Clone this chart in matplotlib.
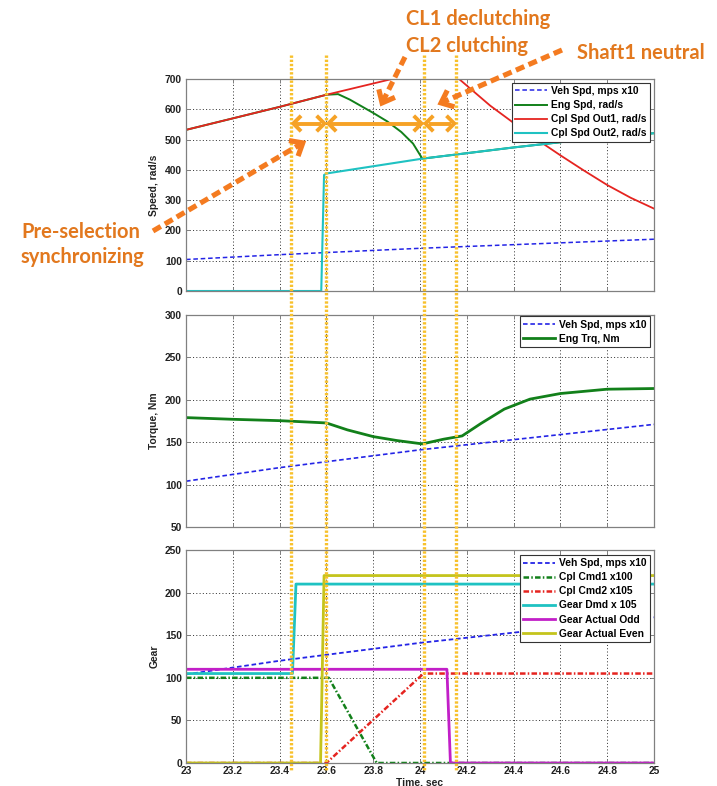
import matplotlib
matplotlib.use("Agg")
import matplotlib.pyplot as plt
from matplotlib.lines import Line2D
from matplotlib.transforms import blended_transform_factory
import numpy as np

# ---------------- data ----------------
x_ticks = [23.0, 23.2, 23.4, 23.6, 23.8, 24.0, 24.2, 24.4, 24.6, 24.8, 25.0]
x_tick_labels = ["23", "23.2", "23.4", "23.6", "23.8", "24", "24.2", "24.4", "24.6", "24.8", "25"]

# vehicle speed (mps x10), shared by all three panels
t_veh = [23.0, 23.4, 23.6, 24.0, 24.5, 25.0]
veh_spd_x10 = [104, 120, 127, 141, 156, 171]

# speed panel
t_out1 = [23.0, 23.4, 23.6, 23.88, 24.0, 24.1, 24.167, 24.3, 24.4, 24.5, 24.6, 24.7, 24.8, 24.9, 25.0]
cpl_spd_out1 = [532, 608, 648, 700, 725, 745, 700, 612, 555, 500, 448, 398, 350, 308, 272]

t_out2 = [23.0, 23.578, 23.59, 23.6, 24.01, 24.2, 24.4, 24.7, 25.0]
cpl_spd_out2 = [0, 0, 383, 388, 437, 455, 474, 500, 521]

t_eng = [23.0, 23.4, 23.6, 23.65, 23.70, 23.80, 23.86, 23.92, 23.97, 24.01, 24.2, 24.4, 24.7, 25.0]
eng_spd = [532, 608, 648, 650, 632, 588, 560, 525, 487, 437, 455, 474, 500, 521]

# torque panel
t_trq = [23.0, 23.2, 23.4, 23.6, 23.69, 23.8, 23.9, 24.01, 24.1, 24.18, 24.26, 24.36, 24.47, 24.6, 24.8, 25.0]
eng_trq = [179, 177, 175.4, 172.7, 164.5, 156.6, 152, 148, 153.5, 157.4, 172, 189, 200.8, 207.4, 212.5, 213.3]

# gear panel
t_cmd1 = [23.0, 23.61, 23.815, 25.0]
cpl_cmd1_x100 = [100, 100, 0, 0]
t_cmd2 = [23.0, 23.60, 24.015, 25.0]
cpl_cmd2_x105 = [0, 0, 105, 105]
t_dmd = [23.0, 23.455, 23.47, 25.0]
gear_dmd_x105 = [105, 105, 210, 210]
t_odd = [23.0, 24.115, 24.13, 25.0]
gear_odd = [110, 110, 0, 0]
t_even = [23.0, 23.575, 23.59, 25.0]
gear_even = [0, 0, 220, 220]

# shift phase boundaries
phase_times = [23.45, 23.6, 24.015, 24.155]
span_level = 553

# ---------------- style ----------------
plt.rcParams["font.family"] = ["Liberation Sans", "DejaVu Sans"]
plt.rcParams["font.weight"] = "bold"
plt.rcParams["axes.labelweight"] = "bold"
plt.rcParams["lines.scale_dashes"] = False

W, H = 717, 786
fig = plt.figure(figsize=(W / 100, H / 100), dpi=100)
fig.patch.set_facecolor("white")

C_BLUE = "#2424e6"
C_GREEN = "#12801a"
C_RED = "#e52420"
C_CYAN = "#1fc2c2"
C_MAG = "#c21fc8"
C_OLIVE = "#c4c41c"
DASH = (0, (3.3, 2.0))
DASHDOT = (0, (4.0, 1.6, 1.1, 1.6))
FS = 7.4

left, width = 186 / W, 468 / W
ax1 = fig.add_axes([left, 1 - 291 / H, width, 212 / H])
ax2 = fig.add_axes([left, 1 - 527 / H, width, 212 / H])
ax3 = fig.add_axes([left, 1 - 763 / H, width, 213 / H])


def style_axes(ax, ylim, ystep, ylabel, show_x):
    ax.set_xlim(23, 25)
    ax.set_ylim(*ylim)
    ax.set_yticks(np.arange(ylim[0], ylim[1] + 1, ystep))
    if show_x:
        ax.set_xticks(x_ticks, x_tick_labels)
    else:
        ax.set_xticks(x_ticks)
        ax.set_xticklabels([])
    ax.grid(True, linestyle=(0, (0.75, 1.6)), color="#3a3a3a", linewidth=0.7)
    for sp in ax.spines.values():
        sp.set_color("#808080")
        sp.set_linewidth(0.9)
    ax.tick_params(direction="in", length=3, width=0.7, color="#808080",
                   top=True, right=True, labelsize=FS, labelcolor="#222222")
    ax.tick_params(axis="y", pad=3)
    ax.tick_params(axis="x", pad=2)
    ax.set_ylabel(ylabel, fontsize=FS, labelpad=4, color="#222222")


def add_legend(ax, top_px):
    leg = ax.legend(loc="upper right",
                    bbox_to_anchor=(1 - 4 / 468, 1 - top_px / 212),
                    borderaxespad=0, fontsize=FS, frameon=True, fancybox=False,
                    framealpha=1, edgecolor="#333333", borderpad=0.3,
                    handlelength=3.1, handletextpad=0.45, labelspacing=0.4)
    leg.get_frame().set_linewidth(0.8)
    return leg


# speed panel
ax1.plot(t_veh, veh_spd_x10, color=C_BLUE, lw=1.1, linestyle=DASH, label="Veh Spd, mps x10")
ax1.plot(t_eng, eng_spd, color=C_GREEN, lw=1.4, label="Eng Spd, rad/s")
ax1.plot(t_out1, cpl_spd_out1, color=C_RED, lw=1.3, label="Cpl Spd Out1, rad/s")
ax1.plot(t_out2, cpl_spd_out2, color=C_CYAN, lw=1.5, label="Cpl Spd Out2, rad/s")
style_axes(ax1, (0, 700), 100, "Speed, rad/s", False)
add_legend(ax1, 4)

# torque panel
ax2.plot(t_veh, veh_spd_x10, color=C_BLUE, lw=1.2, linestyle=DASH, label="Veh Spd, mps x10")
ax2.plot(t_trq, eng_trq, color=C_GREEN, lw=2.0, label="Eng Trq, Nm")
style_axes(ax2, (50, 300), 50, "Torque, Nm", False)
add_legend(ax2, 1.5)

# gear panel
ax3.plot(t_veh, veh_spd_x10, color=C_BLUE, lw=1.3, linestyle=DASH, label="Veh Spd, mps x10")
ax3.plot(t_cmd1, cpl_cmd1_x100, color=C_GREEN, lw=1.8, linestyle=DASHDOT, label="Cpl Cmd1 x100")
ax3.plot(t_cmd2, cpl_cmd2_x105, color=C_RED, lw=1.8, linestyle=DASHDOT, label="Cpl Cmd2 x105")
ax3.plot(t_dmd, gear_dmd_x105, color=C_CYAN, lw=2.0, label="Gear Dmd x 105")
ax3.plot(t_odd, gear_odd, color=C_MAG, lw=2.0, label="Gear Actual Odd")
ax3.plot(t_even, gear_even, color=C_OLIVE, lw=2.0, label="Gear Actual Even")
style_axes(ax3, (0, 250), 50, "Gear", True)
ax3.set_xlabel("Time, sec", fontsize=FS, labelpad=1, color="#222222")
add_legend(ax3, 5)

# ---------------- shift-phase annotations ----------------
C_TEXT = "#e2781e"
C_ARROW = "#f47b20"
C_SPAN = "#f6a226"
C_PHASE = "#f8c12c"

to_fig = fig.transFigure.inverted()


def px(x, y):
    """figure pixel position measured from the top-left corner -> display coords"""
    return np.array([x, H - y], dtype=float)


def data_px(ax, t, v):
    return np.array(ax.transData.transform((t, v)), dtype=float)


def fig_line(points, **kw):
    pts = to_fig.transform(np.asarray(points))
    ln = Line2D(pts[:, 0], pts[:, 1], transform=fig.transFigure, **kw)
    fig.add_artist(ln)
    return ln


def chevron(tip, direction, arm, half_angle_deg, **kw):
    d = direction / np.hypot(*direction)
    a = np.radians(half_angle_deg)
    rot = lambda v, ang: np.array([v[0] * np.cos(ang) - v[1] * np.sin(ang),
                                   v[0] * np.sin(ang) + v[1] * np.cos(ang)])
    p1 = tip - arm * rot(d, a)
    p2 = tip - arm * rot(d, -a)
    fig_line([p1, tip, p2], solid_joinstyle="miter", solid_capstyle="butt", **kw)


# vertical phase markers running through all panels
blend = blended_transform_factory(ax1.transData, fig.transFigure)
for t in phase_times:
    fig.add_artist(Line2D([t, t], [1 - 55 / H, 1 - 770 / H], transform=blend,
                          color=C_PHASE, lw=2.4, linestyle=(0, (1.7, 1.3)),
                          solid_capstyle="butt", dash_capstyle="butt", zorder=5))

# double-headed span arrows between phase markers
for t0, t1 in zip(phase_times[:-1], phase_times[1:]):
    a = data_px(ax1, t0, span_level) + np.array([2.0, 0])
    b = data_px(ax1, t1, span_level) - np.array([2.0, 0])
    fig_line([a + np.array([3, 0]), b - np.array([3, 0])], color=C_SPAN, lw=2.8, zorder=6,
             solid_capstyle="butt")
    chevron(a, a - b, 11, 45, color=C_SPAN, lw=2.8, zorder=6)
    chevron(b, b - a, 11, 45, color=C_SPAN, lw=2.8, zorder=6)


# dashed call-out arrows
def callout(tail, tip):
    d = tip - tail
    u = d / np.hypot(*d)
    fig_line([tail, tip - 3 * u], color=C_ARROW, lw=3.7, linestyle=(0, (6.5, 3.4)),
             dash_capstyle="butt", zorder=7)
    chevron(tip, d, 14, 40, color=C_ARROW, lw=3.7, zorder=7)


callout(px(153, 231), data_px(ax1, 23.499, 489))
callout(px(405, 57), data_px(ax1, 23.838, 621))
callout(px(562, 50), data_px(ax1, 24.09, 621))

text_kw = dict(color=C_TEXT, fontsize=14.5, fontweight="bold",
               family=["Lato", "DejaVu Sans"], ha="left", va="baseline", zorder=8)
for label, (x, y) in [("CL1 declutching", (406, 25)),
                      ("CL2 clutching", (406, 52)),
                      ("Shaft1 neutral", (577, 59)),
                      ("Pre-selection", (21, 238)),
                      ("synchronizing", (21, 263))]:
    fig.text(x / W, 1 - y / H, label, **text_kw)

fig.savefig("out.png", dpi=100)
